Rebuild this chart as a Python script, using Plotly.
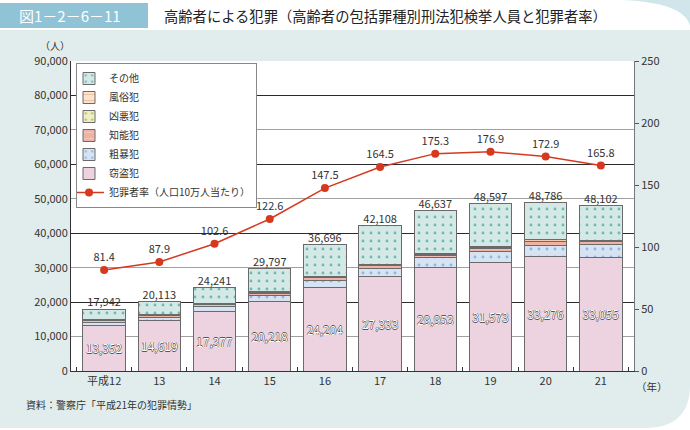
import plotly.graph_objects as go

years = ["平成12", "13", "14", "15", "16", "17", "18", "19", "20", "21"]
theft = [13352, 14619, 17377, 20218, 24204, 27333, 29953, 31573, 33276, 33055]
violent = [800, 1000, 1300, 1700, 2000, 2300, 2900, 3100, 3200, 3600]
fraud = [500, 550, 650, 700, 800, 900, 800, 900, 1000, 800]
heinous = [100, 120, 150, 180, 200, 200, 230, 220, 250, 200]
moral = [150, 160, 180, 200, 250, 280, 300, 300, 350, 300]
totals = [17942, 20113, 24241, 29797, 36696, 42108, 46637, 48597, 48786, 48102]
other = [t - a - b - c - d - e for t, a, b, c, d, e in zip(totals, theft, violent, fraud, heinous, moral)]
rate = [81.4, 87.9, 102.6, 122.6, 147.5, 164.5, 175.3, 176.9, 172.9, 165.8]

left_ticks = list(range(0, 90001, 10000))
right_ticks = list(range(0, 251, 50))

FONT = "Noto Sans CJK JP, Liberation Sans, sans-serif"

# pixel -> paper helpers (plot area: x 71..634, y 61..371)
L, R, T, B = 71, 634, 61, 371
def px(x):
    return (x - L) / (R - L)
def py(y):
    return (B - y) / (B - T)

fig = go.Figure()

def bar(name, vals, color, rank, fg=None, shape="", text=None):
    pat = dict(shape=shape, fgcolor=fg, bgcolor=color, size=8, solidity=0.1, fillmode="replace") if shape else {}
    kw = {}
    if text is not None:
        kw = dict(text=text, texttemplate="%{text:,}", textposition="inside",
                  insidetextanchor="middle", textangle=0,
                  textfont=dict(size=12, color="white", family=FONT,
                                shadow=("0.5px 0 0 #555, -0.5px 0 0 #555, "
                                        "0 0.5px 0 #555, 0 -0.5px 0 #555")))
    fig.add_trace(go.Bar(
        x=years, y=vals, name=name, legendrank=rank,
        marker=dict(color=color, line=dict(color="#6a6a6a", width=1), pattern=pat),
        **kw))

bar("窃盗犯", theft, "#ecd3df", 6, text=theft)
bar("粗暴犯", violent, "#d6e3f3", 5, fg="#95b4dd", shape=".")
bar("知能犯", fraud, "#efb3a5", 4, fg="#f7d3c8", shape="-")
bar("凶悪犯", heinous, "#eef0c4", 3, fg="#b5b860", shape=".")
bar("風俗犯", moral, "#fbe3cf", 2, fg="#e8a878", shape="-")
bar("その他", other, "#d4e8e6", 1, fg="#6fbab5", shape=".")

# totals above bars
fig.add_trace(go.Scatter(
    x=years, y=totals, mode="text", text=[f"{v:,}" for v in totals],
    textposition="top center", textfont=dict(size=11, color="#333", family=FONT),
    showlegend=False, hoverinfo="skip"))

# grid helper axes
fig.add_trace(go.Scatter(x=[], y=[], yaxis="y3", showlegend=False))
fig.add_trace(go.Scatter(x=[], y=[], yaxis="y4", showlegend=False))

fig.add_trace(go.Scatter(
    x=years, y=rate, yaxis="y2", name="犯罪者率（人口10万人当たり）", legendrank=7,
    mode="lines+markers+text", text=[f"{v:.1f}" for v in rate],
    textposition="top center", textfont=dict(size=11, color="#333", family=FONT),
    line=dict(color="#d5391f", width=1.5),
    marker=dict(color="#d5391f", size=8)))

shapes = [
    # panel background
    dict(type="path", xref="paper", yref="paper", layer="below",
         path=(f"M {px(0)},{py(30)} L {px(690)},{py(30)} L {px(690)},{py(385)} "
               f"Q {px(690)},{py(428)} {px(645)},{py(428)} L {px(0)},{py(428)} Z"),
         fillcolor="#e1eded", line=dict(width=0)),
    # top-right decorative corner
    dict(type="path", xref="paper", yref="paper", layer="below",
         path=(f"M {px(620)},{py(0)} Q {px(684)},{py(2)} {px(690)},{py(26)} L {px(690)},{py(0)} Z"),
         fillcolor="#bcdbe2", line=dict(width=0), opacity=0.7),
    # plot area background
    dict(type="rect", xref="paper", yref="paper", layer="below",
         x0=0, x1=1, y0=0, y1=1, fillcolor="white", line=dict(width=0)),
    # figure label box
    dict(type="rect", xref="paper", yref="paper", layer="below",
         x0=px(0), x1=px(148), y0=py(28), y1=py(3), fillcolor="#8fc3d5", line=dict(width=0)),
]

annotations = [
    dict(text="図1－2－6－11", xref="paper", yref="paper", x=px(17), y=py(16),
         xanchor="left", yanchor="middle", showarrow=False,
         font=dict(size=15, color="white", family=FONT)),
    dict(text="高齢者による犯罪（高齢者の包括罪種別刑法犯検挙人員と犯罪者率）", xref="paper", yref="paper",
         x=px(162), y=py(16), xanchor="left", yanchor="middle", showarrow=False,
         font=dict(size=14.3, color="#222", family=FONT)),
    dict(text="（人）", xref="paper", yref="paper", x=px(55), y=py(45),
         xanchor="center", yanchor="middle", showarrow=False,
         font=dict(size=10, color="#333", family=FONT)),
    dict(text="（年）", xref="paper", yref="paper", x=px(652), y=py(386),
         xanchor="center", yanchor="middle", showarrow=False,
         font=dict(size=10.5, color="#333", family=FONT)),
    dict(text="資料：警察庁「平成21年の犯罪情勢」", xref="paper", yref="paper", x=px(24), y=py(404),
         xanchor="left", yanchor="middle", showarrow=False,
         font=dict(size=10, color="#333", family=FONT)),
]

axis_common = dict(range=[0, 90000], overlaying="y", anchor="x", showticklabels=False,
                   ticks="", showline=False, zeroline=False)

fig.update_layout(
    width=690, height=430,
    margin=dict(l=L, r=690 - R, t=T, b=430 - B),
    paper_bgcolor="white", plot_bgcolor="rgba(0,0,0,0)",
    font=dict(family=FONT, size=11, color="#333"),
    barmode="stack", bargap=0.23,
    showlegend=True,
    legend=dict(x=px(76), y=py(63), xanchor="left", yanchor="top",
                bgcolor="white", bordercolor="#888", borderwidth=1,
                traceorder="normal", font=dict(size=10, color="#333", family=FONT),
                itemwidth=30, tracegroupgap=0, indentation=-8),
    xaxis=dict(type="category", showgrid=False, showline=True, linecolor="#333", linewidth=1,
               ticks="inside", tickson="boundaries", ticklen=4, tickcolor="#333",
               tickfont=dict(size=11, color="#333")),
    yaxis=dict(range=[0, 90000], tickvals=left_ticks, tickformat=",", showgrid=False,
               showline=True, linecolor="#333", linewidth=1, zeroline=False,
               ticks="", tickfont=dict(size=11, color="#333")),
    yaxis2=dict(range=[0, 250], tickvals=right_ticks, overlaying="y", side="right",
                showgrid=False, showline=True, linecolor="#777", linewidth=1, zeroline=False,
                ticks="outside", ticklen=4, tickcolor="#555", tickfont=dict(size=11, color="#333")),
    yaxis3=dict(tickvals=left_ticks[1::2], showgrid=True, gridcolor="#a0a0a0", gridwidth=1.3, **axis_common),
    yaxis4=dict(tickvals=left_ticks[2::2], showgrid=True, gridcolor="#2a2a2a", gridwidth=1, **axis_common),
    shapes=shapes, annotations=annotations,
)

fig.write_html("out.html", config={"displayModeBar": False},
               post_script="document.body.style.margin='0';document.body.style.overflow='hidden';")
